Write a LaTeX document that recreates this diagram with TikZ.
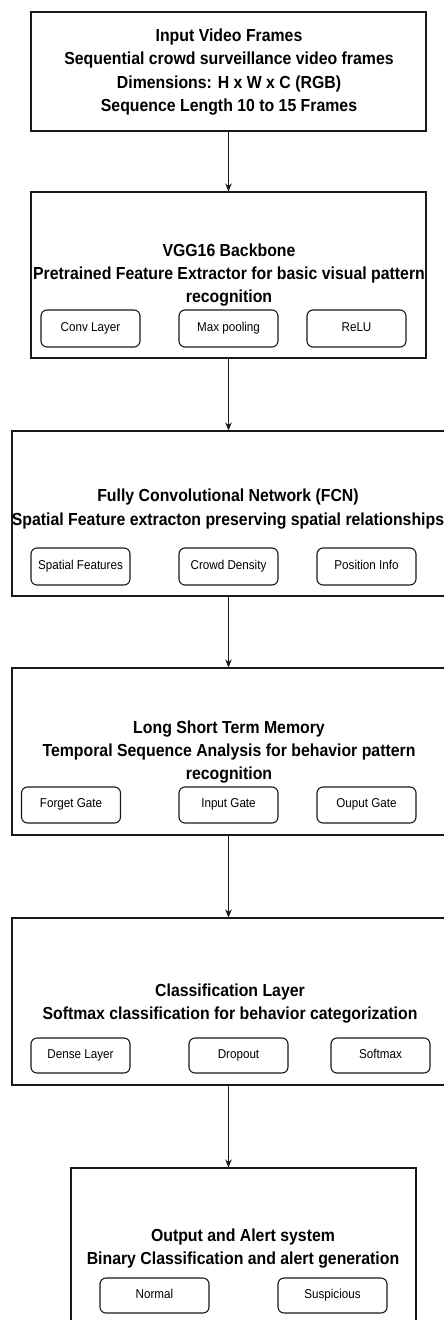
\documentclass[tikz,border=0pt]{standalone}
\usepackage{fontspec}
\setmainfont{Liberation Sans}
\usetikzlibrary{arrows.meta}
\newcommand{\vstretch}[1]{\scalebox{1}[1.1]{\strut #1}}
\begin{document}
\begin{tikzpicture}[x=1bp,y=-1bp,
  mainbox/.style={draw=black!90,line width=1.1bp,inner sep=0pt,fill=white},
  titletext/.style={align=center,inner sep=0pt,yscale=1.1,font=\bfseries\fontsize{15.9}{21.4}\selectfont},
  subbox/.style={draw=black!90,line width=1.1bp,rounded corners=6bp,inner sep=0pt,
     font=\fontsize{11.7}{13}\selectfont},
  sub99/.style={subbox,minimum width=99bp,minimum height=37bp},
  sub109/.style={subbox,minimum width=109bp,minimum height=35bp},
  arr/.style={draw=black!90,line width=1.1bp,-{Stealth[length=8bp,width=6.5bp]}}]
\useasboundingbox (0,0) rectangle (444,1320);
\clip (0,0) rectangle (444,1320);
% main boxes
\node[mainbox,minimum width=395bp,minimum height=119bp] (b1) at (228.5,71.5) {};
\node[mainbox,minimum width=395bp,minimum height=166bp] (b2) at (228.5,275) {};
\node[mainbox,minimum width=433bp,minimum height=165bp] (b3) at (228.5,513.5) {};
\node[mainbox,minimum width=433bp,minimum height=167bp] (b4) at (228.5,751.5) {};
\node[mainbox,minimum width=433bp,minimum height=167bp] (b5) at (228.5,1001.5) {};
\node[mainbox,minimum width=345bp,minimum height=162bp] (b6) at (243.5,1249) {};
% titles
\node[titletext] (t1) at (229,72) {Input Video Frames\\Sequential crowd surveillance video frames\\Dimensions: H x W x C (RGB)\\Sequence Length 10 to 15 Frames};
\node[titletext] (t2) at (229,275) {VGG16 Backbone\\Pretrained Feature Extractor for basic visual pattern\\recognition};
\node[titletext] (t3) at (228,509) {Fully Convolutional Network (FCN)\\Spatial Feature extracton preserving spatial relationships};
\node[titletext] (t4) at (229,752) {Long Short Term Memory\\Temporal Sequence Analysis for behavior pattern\\recognition};
\node[titletext] (t5) at (230,1003.5) {Classification Layer\\Softmax classification for behavior categorization};
\node[titletext] (t6) at (243,1248.5) {Output and Alert system\\Binary Classification and alert generation};
% sub boxes
\node[sub99] (s21) at (90.5,328.5) {\vstretch{Conv Layer}};
\node[sub99] (s22) at (228.5,328.5) {\vstretch{Max pooling}};
\node[sub99] (s23) at (356.5,328.5) {\vstretch{ReLU}};
\node[sub99] (s31) at (80.5,566.5) {\vstretch{Spatial Features}};
\node[sub99] (s32) at (228.5,566.5) {\vstretch{Crowd Density}};
\node[sub99] (s33) at (366.5,566.5) {\vstretch{Position Info}};
\node[sub99,minimum height=36bp] (s41) at (71,805) {\vstretch{Forget Gate}};
\node[sub99,minimum height=36bp] (s42) at (228.5,805) {\vstretch{Input Gate}};
\node[sub99,minimum height=36bp] (s43) at (366.5,805) {\vstretch{Ouput Gate}};
\node[sub99,minimum height=35bp] (s51) at (80.5,1055.5) {\vstretch{Dense Layer}};
\node[sub99,minimum height=35bp] (s52) at (238.5,1055.5) {\vstretch{Dropout}};
\node[sub99,minimum height=35bp] (s53) at (380.5,1055.5) {\vstretch{Softmax}};
\node[sub109] (s61) at (154.5,1295.5) {\vstretch{Normal}};
\node[sub109] (s62) at (332.5,1295.5) {\vstretch{Suspicious}};
% arrows
\draw[arr] (b1.south) -- (b2.north);
\draw[arr] (b2.south) -- (b3.north);
\draw[arr] (b3.south) -- (b4.north);
\draw[arr] (b4.south) -- (b5.north);
\draw[arr] (b5.south) -- (b5.south |- b6.north);
\end{tikzpicture}
\end{document}
